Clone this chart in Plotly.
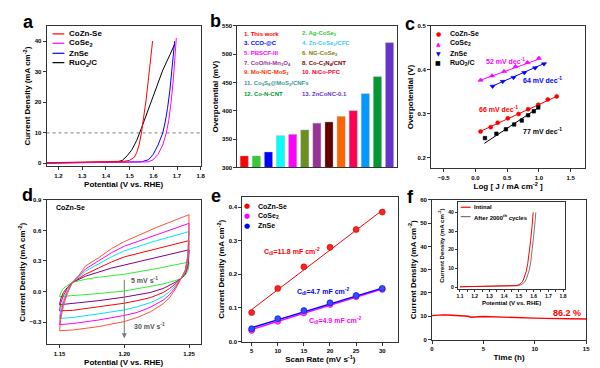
import plotly.graph_objects as go

W, H = 600, 368
def px(x): return x / W
def py(y): return 1 - y / H

FONT = "Liberation Sans, Arial, sans-serif"
TICK = dict(family=FONT, size=6, color="black", weight="bold")
TITLE = dict(family=FONT, size=8, color="black", weight="bold")

# ---------------- Panel a : LSV ----------------
a_cozn_x = [1.15, 1.20, 1.30, 1.40, 1.45, 1.48, 1.50, 1.52, 1.53, 1.54, 1.55, 1.56, 1.57, 1.58, 1.59, 1.597]
a_cozn_y = [0.2, 0.3, 0.4, 0.5, 0.6, 0.7, 1.0, 2.0, 3.5, 6.0, 10.0, 15.0, 21.0, 28.0, 35.0, 40.0]
a_cose_x = [1.15, 1.40, 1.50, 1.58, 1.60, 1.62, 1.64, 1.655, 1.665, 1.675, 1.685, 1.697]
a_cose_y = [0.1, 0.2, 0.3, 0.5, 1.2, 3.0, 6.0, 10.0, 14.0, 20.0, 28.0, 41.0]
a_znse_x = [1.15, 1.40, 1.50, 1.55, 1.58, 1.60, 1.62, 1.64, 1.65, 1.66, 1.67, 1.68, 1.69]
a_znse_y = [0.1, 0.2, 0.3, 0.5, 1.2, 3.0, 6.0, 10.0, 13.5, 18.0, 24.0, 31.0, 40.0]
a_ruo_x = [1.15, 1.30, 1.40, 1.45, 1.47, 1.49, 1.51, 1.53, 1.55, 1.58, 1.61, 1.64, 1.67, 1.69]
a_ruo_y = [0.1, 0.2, 0.3, 0.5, 1.0, 2.5, 4.5, 7.5, 11.5, 18.0, 24.5, 30.5, 35.5, 39.0]
a_ref_level = 10

# ---------------- Panel b : overpotential bars ----------------
b_index = list(range(1, 14))
b_values = [320, 320, 327, 356, 358, 366, 378, 380, 390, 400, 430, 460, 520]
b_bar_colors = ["#FF0000", "#33CC33", "#0000FF", "#00FFFF", "#FF00FF", "#6B8E23", "#993399",
                "#660000", "#FF6600", "#FF0055", "#0099FF", "#009933", "#6633CC"]
b_labels = ["1. This work", "2. Ag-CoSe<sub>2</sub>", "3. CCO-@C", "4. Zn-CoSe<sub>2</sub>/CFC",
            "5. PBSCF-III", "6. NG-CoSe<sub>2</sub>", "7. CoO/hi-Mn<sub>3</sub>O<sub>4</sub>",
            "8. Co-C<sub>3</sub>N<sub>4</sub>/CNT", "9. Mo-N/C-MoS<sub>2</sub>", "10. NiCo-PFC",
            "11. Co<sub>9</sub>S<sub>8</sub>@MoS<sub>2</sub>/CNFs", "12. Co-N-CNT", "13. ZnCoNC-0.1"]
b_label_colors = ["#FF0000", "#33CC33", "#0000FF", "#33CCFF", "#FF00FF", "#808000", "#993399",
                  "#800000", "#FF3300", "#FF0033", "#339999", "#009933", "#6633CC"]

# ---------------- Panel c : Tafel ----------------
c_cozn_x = [0.08, 0.24, 0.35, 0.51, 0.68, 0.83, 0.99, 1.14, 1.28]
c_cozn_y = [0.259, 0.269, 0.279, 0.289, 0.299, 0.310, 0.320, 0.332, 0.339]
c_cozn_fit_x = [0.07, 1.28]
c_cozn_fit_y = [0.259, 0.339]
c_cose_x = [0.08, 0.26, 0.45, 0.63, 0.82, 1.00]
c_cose_y = [0.376, 0.386, 0.396, 0.407, 0.416, 0.426]
c_cose_fit_x = [0.06, 1.02]
c_cose_fit_y = [0.375, 0.425]
c_znse_x = [0.27, 0.43, 0.60, 0.77, 0.94, 1.08]
c_znse_y = [0.362, 0.373, 0.382, 0.393, 0.404, 0.413]
c_znse_fit_x = [0.26, 1.10]
c_znse_fit_y = [0.362, 0.415]
c_ruo_x = [0.15, 0.33, 0.48, 0.61, 0.73, 0.83, 0.92, 0.99]
c_ruo_y = [0.244, 0.254, 0.264, 0.275, 0.284, 0.296, 0.305, 0.314]
c_ruo_fit_x = [0.14, 1.02]
c_ruo_fit_y = [0.232, 0.316]

# ---------------- Panel d : CV loops ----------------
d_fwd_x = [1.15, 1.151, 1.153, 1.156, 1.16, 1.165, 1.17, 1.18, 1.19, 1.20, 1.225, 1.249, 1.25]
d_rev_x = [1.25, 1.2497, 1.249, 1.247, 1.244, 1.24, 1.235, 1.23, 1.22, 1.21, 1.20, 1.18, 1.16, 1.15]
d_rates = ["5", "10", "15", "20", "25", "30"]
d_colors = ["#33EE33", "#800080", "#FF0000", "#00E5EE", "#FF00FF", "#FF5533"]
d_fwd_y = [
    [-0.05, -0.01, 0.03, 0.06, 0.09, 0.105, 0.12, 0.14, 0.155, 0.17, 0.225, 0.285, 0.29],
    [-0.13, -0.07, -0.01, 0.04, 0.09, 0.12, 0.15, 0.19, 0.23, 0.26, 0.335, 0.405, 0.41],
    [-0.19, -0.11, -0.04, 0.03, 0.09, 0.13, 0.17, 0.23, 0.29, 0.34, 0.42, 0.495, 0.50],
    [-0.265, -0.17, -0.08, 0.01, 0.09, 0.14, 0.20, 0.27, 0.34, 0.40, 0.50, 0.585, 0.59],
    [-0.325, -0.22, -0.11, -0.01, 0.09, 0.15, 0.22, 0.30, 0.38, 0.445, 0.56, 0.665, 0.67],
    [-0.385, -0.27, -0.14, -0.02, 0.09, 0.16, 0.25, 0.33, 0.42, 0.49, 0.63, 0.75, 0.755],
]
d_rev_y = [
    [0.29, 0.24, 0.20, 0.16, 0.13, 0.11, 0.09, 0.075, 0.05, 0.025, 0.005, -0.02, -0.04, -0.05],
    [0.41, 0.32, 0.24, 0.17, 0.13, 0.095, 0.06, 0.03, -0.01, -0.035, -0.055, -0.09, -0.12, -0.13],
    [0.50, 0.38, 0.27, 0.18, 0.13, 0.08, 0.03, -0.01, -0.06, -0.09, -0.115, -0.15, -0.185, -0.19],
    [0.59, 0.44, 0.30, 0.19, 0.13, 0.065, 0.0, -0.05, -0.11, -0.15, -0.18, -0.22, -0.255, -0.265],
    [0.67, 0.50, 0.33, 0.20, 0.13, 0.05, -0.03, -0.085, -0.155, -0.205, -0.235, -0.28, -0.315, -0.325],
    [0.755, 0.56, 0.36, 0.21, 0.13, 0.035, -0.06, -0.12, -0.20, -0.255, -0.295, -0.345, -0.378, -0.385],
]

# ---------------- Panel e : Cdl ----------------
e_scan = [5, 10, 15, 20, 25, 30]
e_cozn = [0.086, 0.158, 0.222, 0.280, 0.333, 0.385]
e_cose = [0.033, 0.060, 0.085, 0.110, 0.133, 0.155]
e_znse = [0.038, 0.068, 0.092, 0.115, 0.137, 0.158]
e_fit_x = [5, 30]
e_cozn_fit = [0.095, 0.390]
e_cose_fit = [0.036, 0.156]
e_znse_fit = [0.041, 0.159]

# ---------------- Panel f : stability ----------------
f_time = [0, 0.5, 1, 1.5, 2, 2.5, 3, 3.5, 3.8, 4.0, 4.2, 4.5, 5, 5.5, 6, 7, 8, 9, 10, 11, 12, 13, 14, 15]
f_curr = [10.3, 10.5, 10.6, 10.55, 10.4, 10.3, 10.2, 10.0, 9.6, 9.7, 9.9, 9.8, 9.9, 9.8, 9.7,
          9.5, 9.4, 9.3, 9.2, 9.1, 9.0, 8.95, 8.9, 8.8]
f_init_x = [1.10, 1.30, 1.45, 1.48, 1.50, 1.52, 1.53, 1.54, 1.55, 1.56, 1.57, 1.58, 1.59, 1.597]
f_init_y = [0.2, 0.4, 0.6, 0.8, 1.3, 2.5, 3.8, 5.7, 8.5, 12.5, 18.0, 25.0, 33.0, 40.0]
f_after_x = [1.10, 1.30, 1.45, 1.50, 1.52, 1.54, 1.55, 1.56, 1.57, 1.58, 1.59, 1.60, 1.61, 1.615]
f_after_y = [0.2, 0.3, 0.5, 0.8, 1.5, 2.8, 4.2, 6.2, 9.0, 13.0, 19.0, 27.0, 35.0, 40.0]

fig = go.Figure()

def line(x, y, color, ax, width=1.0, dash=None, name=None):
    fig.add_trace(go.Scatter(x=x, y=y, mode="lines", line=dict(color=color, width=width, dash=dash),
                             xaxis="x" + ax, yaxis="y" + ax, showlegend=False, name=name))

def pts(x, y, color, ax, symbol, size, name=None, lc=None):
    fig.add_trace(go.Scatter(x=x, y=y, mode="markers",
                             marker=dict(color=color, symbol=symbol, size=size,
                                         line=dict(color=lc or color, width=0.6)),
                             xaxis="x" + ax, yaxis="y" + ax, showlegend=False, name=name))

# a
line([1.15, 1.8], [a_ref_level, a_ref_level], "#999999", "", width=1.2, dash="dot")
line(a_ruo_x, a_ruo_y, "black", "", name="RuO2/C")
line(a_znse_x, a_znse_y, "#0000FF", "", name="ZnSe")
line(a_cose_x, a_cose_y, "#FF00FF", "", name="CoSe2")
line(a_cozn_x, a_cozn_y, "#FF0000", "", name="CoZn-Se")

# b
fig.add_trace(go.Bar(x=b_index, y=[v - 300 for v in b_values], base=300, marker=dict(color=b_bar_colors,
                     line=dict(color="#999999", width=0.4)), width=0.66,
                     xaxis="x2", yaxis="y2", showlegend=False))

# c
line(c_cose_fit_x, c_cose_fit_y, "#FF00FF", "3")
line(c_znse_fit_x, c_znse_fit_y, "#0000FF", "3")
line(c_cozn_fit_x, c_cozn_fit_y, "#FF0000", "3")
line(c_ruo_fit_x, c_ruo_fit_y, "black", "3")
pts(c_cozn_x, c_cozn_y, "#FF0000", "3", "circle", 4)
pts(c_cose_x, c_cose_y, "#FF00FF", "3", "triangle-up", 4.5)
pts(c_znse_x, c_znse_y, "#0000FF", "3", "triangle-down", 4.5)
pts(c_ruo_x, c_ruo_y, "black", "3", "square", 3.5)

# d
for i, r in enumerate(d_rates):
    line(d_fwd_x + d_rev_x, d_fwd_y[i] + d_rev_y[i], d_colors[i], "4", width=1.0, name=r + " mV/s")

# e
line(e_fit_x, e_cozn_fit, "#FF0000", "5")
line(e_fit_x, e_cose_fit, "#FF00FF", "5", width=1.4)
line(e_fit_x, e_znse_fit, "#0000FF", "5", width=1.4)
pts(e_scan, e_cozn, "#FF2020", "5", "circle", 6, lc="#CC0000")
pts(e_scan, e_cose, "#FF40FF", "5", "circle", 6, lc="#CC00CC")
pts(e_scan, e_znse, "#3050FF", "5", "circle", 6, lc="#0000CC")

# f
line(f_time, f_curr, "#FF0000", "6", width=1.4)
line(f_after_x, f_after_y, "#777777", "7", width=1.0)
line(f_init_x, f_init_y, "#FF0000", "7", width=1.0)

def xax(dom, rng, dtick=None, fmt=None, title=None, standoff=3, show=True, minor=None, tickfont=TICK):
    d = dict(domain=dom, range=rng, showgrid=False, zeroline=False, showline=True, mirror=True,
             linecolor="#333333", linewidth=1, ticks="outside" if show else "", ticklen=3,
             tickwidth=0.8, tickcolor="#333333", tickfont=tickfont, showticklabels=show)
    if dtick is not None:
        d["dtick"] = dtick
        d["tick0"] = 0
    if fmt:
        d["tickformat"] = fmt
    if title:
        d["title"] = dict(text=title, font=TITLE, standoff=standoff)
    if minor:
        d["minor"] = minor
    return d

L = dict(width=W, height=H, margin=dict(l=0, r=0, t=0, b=0), plot_bgcolor="white",
         paper_bgcolor="white", showlegend=False, font=dict(family=FONT))

L["xaxis"] = xax([px(37), px(193)], [1.15, 1.8], 0.1, ".1f", "Potential (V vs. RHE)")
L["yaxis"] = xax([py(158), py(15)], [-1, 45], 10, None, "Current Density (mA cm<sup>-2</sup>)", 2)
L["xaxis"]["anchor"] = "y"; L["yaxis"]["anchor"] = "x"

L["xaxis2"] = xax([px(230), px(392)], [0.43, 13.65], show=False)
L["yaxis2"] = xax([py(159), py(15)], [300, 550], 50, None, "Overpotential (mV)", 2)
L["xaxis2"]["anchor"] = "y2"; L["yaxis2"]["anchor"] = "x2"

L["xaxis3"] = xax([px(426), px(582)], [-0.7, 1.73], 0.5, ".1f", "Log [ J / mA cm<sup>-2</sup> ]")
L["yaxis3"] = xax([py(160), py(15)], [0.175, 0.5], 0.1, ".1f", "Overpotential (V)", 2)
L["xaxis3"]["anchor"] = "y3"; L["yaxis3"]["anchor"] = "x3"

L["xaxis4"] = xax([px(37), px(193)], [1.14, 1.259], 0.05, ".2f", "Potential (V vs. RHE)")
L["yaxis4"] = xax([py(339), py(192)], [-0.52, 0.9], 0.3, ".1f", "Current Density (mA cm<sup>-2</sup>)", 2)
L["xaxis4"]["anchor"] = "y4"; L["yaxis4"]["anchor"] = "x4"

L["xaxis5"] = xax([px(235), px(393)], [3.2, 33.1], 5, None, "Scan Rate (mV s<sup>-1</sup>)")
L["yaxis5"] = xax([py(336), py(189)], [0, 0.43], 0.1, ".1f", "Current Density (mA cm<sup>-2</sup>)", 2)
L["xaxis5"]["anchor"] = "y5"; L["yaxis5"]["anchor"] = "x5"

L["xaxis6"] = xax([px(427), px(583)], [0, 15], 5, None, "Time (h)")
L["yaxis6"] = xax([py(334), py(192)], [0, 60], 10, None, "Current Density (mA cm<sup>-2</sup>)", 2)
L["xaxis6"]["anchor"] = "y6"; L["yaxis6"]["anchor"] = "x6"

SMALL = dict(family=FONT, size=5, color="black", weight="bold")
INSET_T = dict(family=FONT, size=6, color="black", weight="bold")
L["xaxis7"] = xax([px(453), px(562)], [1.085, 1.816], 0.1, ".1f", "Potential (V vs. RHE)", 2,
                  minor=dict(dtick=0.05, ticks="outside", ticklen=2), tickfont=SMALL)
L["yaxis7"] = xax([py(283), py(194)], [-1.2, 45.6], 10, None, "Current Density (mA cm<sup>-2</sup>)", 3,
                  tickfont=SMALL)
L["xaxis7"]["anchor"] = "y7"; L["yaxis7"]["anchor"] = "x7"
L["xaxis7"]["title"]["font"] = INSET_T
L["yaxis7"]["title"]["font"] = INSET_T
L["xaxis7"]["ticklen"] = 2
L["yaxis7"]["ticklen"] = 2

fig.update_layout(**L)

ann = []
shapes = []
def text(x, y, s, color="black", size=8, anchor="left", bold=True):
    ann.append(dict(xref="paper", yref="paper", x=px(x), y=py(y), text=s, showarrow=False,
                    xanchor=anchor, yanchor="middle",
                    font=dict(family=FONT, size=size, color=color, weight="bold" if bold else "normal")))

def seg(x0, x1, y, color, width=1.2):
    shapes.append(dict(type="line", xref="paper", yref="paper", x0=px(x0), x1=px(x1), y0=py(y), y1=py(y),
                       line=dict(color=color, width=width)))

# panel letters
for lab, x, y in [("a", 19, 11), ("b", 208, 10), ("c", 405, 13), ("d", 18, 187), ("e", 208, 188), ("f", 405, 189)]:
    text(x, y, lab, size=18, anchor="center")

# legend a
for i, (nm, col) in enumerate([("CoZn-Se", "#FF0000"), ("CoSe<sub>2</sub>", "#FF00FF"),
                               ("ZnSe", "#0000FF"), ("RuO<sub>2</sub>/C", "black")]):
    yy = [23.3, 32.8, 43, 52.5][i]
    seg(43, 55, yy, col)
    text(58, yy, nm, size=8)

# panel b labels
rows = [23, 33, 43, 53, 62.5, 74, 84]
for i, (lab, col) in enumerate(zip(b_labels, b_label_colors)):
    if i < 10:
        r, c = divmod(i, 2)
    elif i == 10:
        r, c = 5, 0
    else:
        r, c = 6, i - 11
    text(235 if c == 0 else 293, rows[r], lab, color=col, size=6)

# legend c
for i, (nm, col, g) in enumerate([("CoZn-Se", "#FF0000", "●"), ("CoSe<sub>2</sub>", "#FF00FF", "▲"),
                                  ("ZnSe", "#0000FF", "▼"), ("RuO<sub>2</sub>/C", "black", "■")]):
    yy = [23.3, 32.8, 43, 52.5][i]
    ann.append(dict(xref="paper", yref="paper", x=px(433.5), y=py(yy), text=g, showarrow=False,
                    xanchor="center", yanchor="middle", font=dict(family="DejaVu Sans", size=6, color=col)))
    text(443, yy, nm, size=7)

text(480, 51, "52 mV dec<sup>-1</sup>", "#FF00FF", size=7)
text(517, 70, "64 mV dec<sup>-1</sup>", "#0000FF", size=7)
text(473, 99.5, "66 mV dec<sup>-1</sup>", "#FF0000", size=7)
text(517, 122, "77 mV dec<sup>-1</sup>", "black", size=7)

# panel d texts + arrow
text(45, 200, "CoZn-Se", size=7)
ann.append(dict(xref="x4", yref="y4", x=1.2, y=-0.46, ax=1.2, ay=0.13, axref="x4", ayref="y4",
                text="", showarrow=True, arrowhead=2, arrowsize=1, arrowwidth=1, arrowcolor="#777777"))
text(120, 273, "5 mV s<sup>-1</sup>", "#555555", size=7)
text(123, 320.5, "30 mV s<sup>-1</sup>", "#555555", size=7)

# legend e
for i, (nm, col) in enumerate([("CoZn-Se", "#FF0000"), ("CoSe<sub>2</sub>", "#FF00FF"), ("ZnSe", "#0000FF")]):
    yy = [198.5, 208.3, 218.5][i]
    ann.append(dict(xref="paper", yref="paper", x=px(239.5), y=py(yy), text="●", showarrow=False,
                    xanchor="center", yanchor="middle", font=dict(family="DejaVu Sans", size=7, color=col)))
    text(249, yy, nm, size=7)
text(255, 244, "C<sub>dl</sub>=11.8 mF cm<sup>-2</sup>", "#FF0000", size=7)
text(288, 285, "C<sub>dl</sub>=4.7 mF cm<sup>-2</sup>", "#0000FF", size=7)
text(300, 315, "C<sub>dl</sub>=4.9 mF cm<sup>-2</sup>", "#FF00FF", size=7)

# panel f
text(580, 306.5, "86.2 %", "#FF0000", anchor="right", size=9)
seg(456, 466, 199.5, "#FF0000", 1.2)
text(467, 199.5, "Intinal", size=6)
seg(456, 466, 209, "#777777", 1.2)
text(467, 209, "After 2000<sup>th</sup> cycles", size=6)

fig.update_layout(annotations=ann, shapes=shapes)
fig.write_html("out.html")
